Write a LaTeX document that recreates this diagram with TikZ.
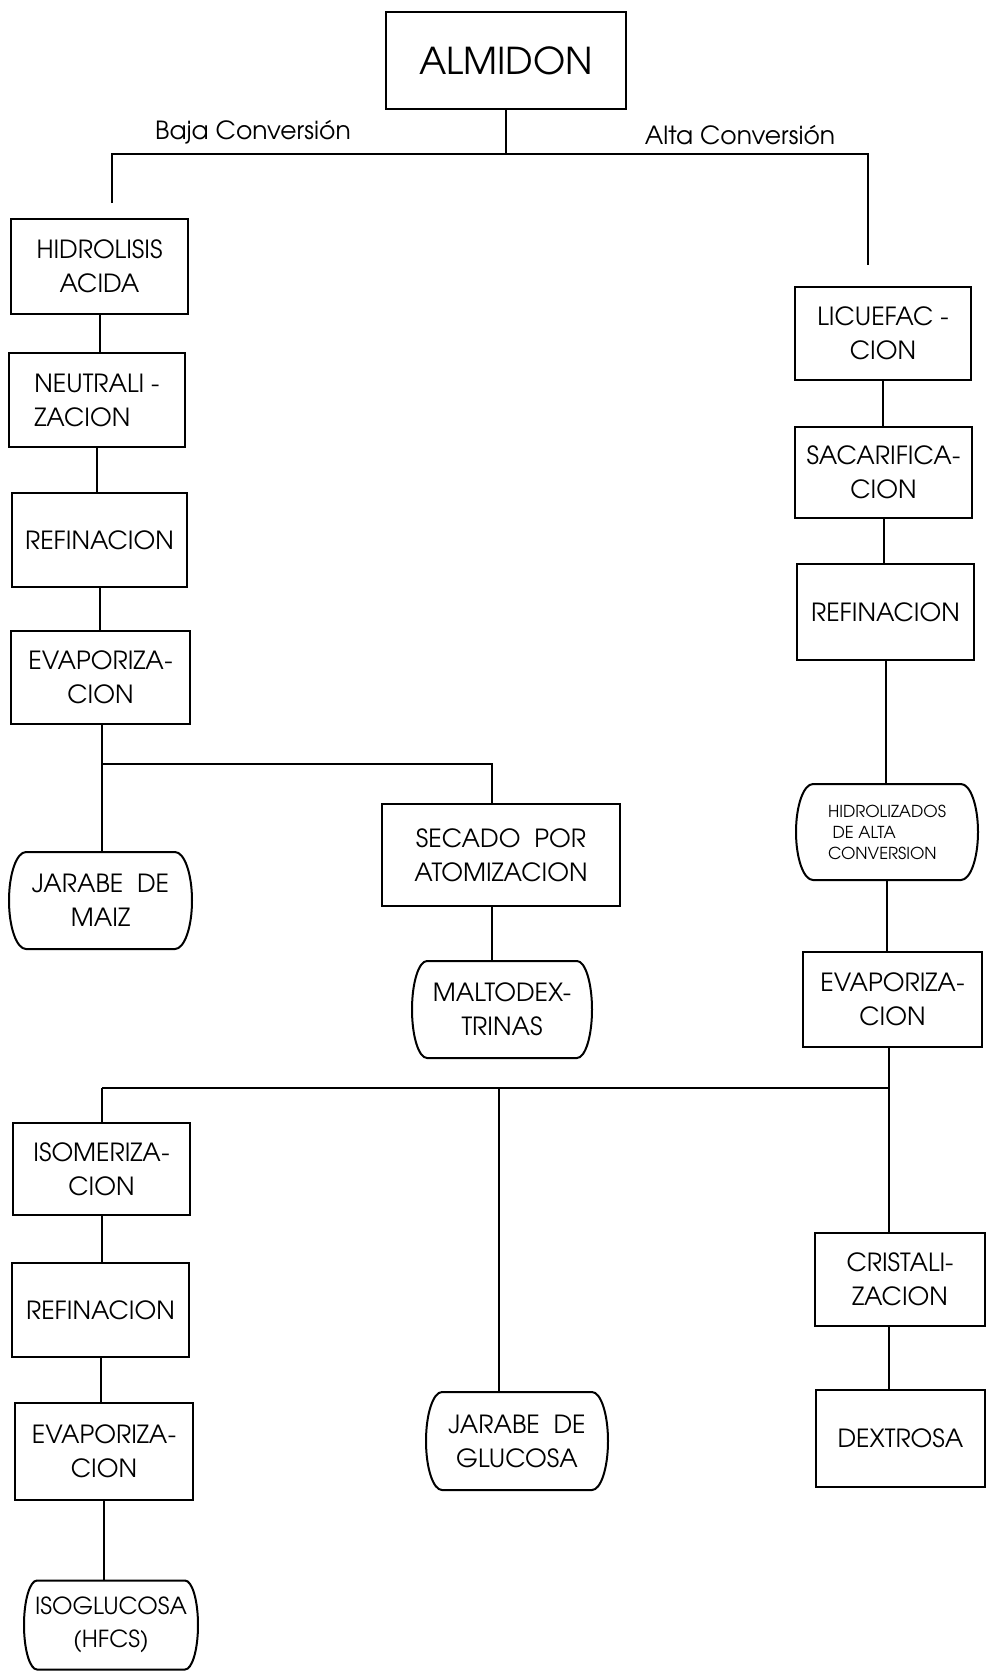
\documentclass[tikz,border=0pt]{standalone}
\usepackage{fontspec}
\setmainfont{TeX Gyre Adventor}
\usetikzlibrary{calc}
\tikzset{
  boxfont/.style={font=\fontsize{25}{34}\selectfont},
  stage/.style={draw, rectangle, inner sep=2pt, align=center, boxfont},
  product/.style={rectangle, inner sep=0pt, align=center, boxfont},
  branchlabel/.style={inner sep=0pt, font=\fontsize{25}{28}\selectfont},
}
% outline of a product node: flat top and bottom, half-elliptic ends
\newcommand{\barrel}[2][17]{%
  \draw ($(#2.north west)+(#1,0)$) -- ($(#2.north east)+(-#1,0)$)
    .. controls ($(#2.north east)+(-0.448*#1,0)$)
            and ($(#2.east)!0.552!(#2.north east)$) .. (#2.east)
    .. controls ($(#2.east)!0.552!(#2.south east)$)
            and ($(#2.south east)+(-0.448*#1,0)$) .. ($(#2.south east)+(-#1,0)$)
    -- ($(#2.south west)+(#1,0)$)
    .. controls ($(#2.south west)+(0.448*#1,0)$)
            and ($(#2.west)!0.552!(#2.south west)$) .. (#2.west)
    .. controls ($(#2.west)!0.552!(#2.north west)$)
            and ($(#2.north west)+(0.448*#1,0)$) .. cycle;}
\begin{document}
\begin{tikzpicture}[x=1pt, y=-1pt, line width=2pt]
\useasboundingbox (0,0) rectangle (986,1675);

% source
\node[stage, minimum width=240pt, minimum height=97pt,
      font=\fontsize{37}{42}\selectfont] (almidon) at (506,60.5) {ALMIDON};
\node[branchlabel] (baja) at (253,132) {Baja Conversión};
\node[branchlabel] (alta) at (740,135) {Alta Conversión};

% low-conversion branch
\node[stage, minimum width=177pt, minimum height=95pt] (hidro) at (99.5,266.5) {HIDROLISIS\\ACIDA};
\node[stage, minimum width=176pt, minimum height=94pt, align=left] (neutra) at (97,400) {NEUTRALI -\\ZACION};
\node[stage, minimum width=175pt, minimum height=94pt] (refinA) at (99.5,540) {REFINACION};
\node[stage, minimum width=179pt, minimum height=93pt] (evapA) at (100.5,677.5) {EVAPORIZA-\\CION};
\node[product, minimum width=181pt, minimum height=95pt] (maiz) at (100.5,900.5) {JARABE\ \ DE\\MAIZ};
\node[stage, minimum width=238pt, minimum height=102pt] (secado) at (501,855) {SECADO\ \ POR\\ATOMIZACION};
\node[product, minimum width=178pt, minimum height=95pt] (malto) at (502,1009.5) {MALTODEX-\\TRINAS};

% high-conversion branch
\node[stage, minimum width=176pt, minimum height=93pt] (licue) at (883,333.5) {LICUEFAC -\\CION};
\node[stage, minimum width=177pt, minimum height=91pt] (sacar) at (883.5,472.5) {SACARIFICA-\\CION};
\node[stage, minimum width=177pt, minimum height=96pt] (refinB) at (885.5,612) {REFINACION};
\node[product, minimum width=180pt, minimum height=94pt, align=left,
      font=\fontsize{16.5}{21}\selectfont] (hidroliz) at (887,832) {HIDROLIZADOS\\\ DE\ ALTA\\CONVERSION};
\node[stage, minimum width=179pt, minimum height=95pt] (evapB) at (892.5,999.5) {EVAPORIZA-\\CION};

% glucose products
\node[stage, minimum width=177pt, minimum height=92pt] (isom) at (101.5,1169) {ISOMERIZA-\\CION};
\node[stage, minimum width=177pt, minimum height=94pt] (refinC) at (100.5,1310) {REFINACION};
\node[stage, minimum width=178pt, minimum height=97pt] (evapC) at (104,1451.5) {EVAPORIZA-\\CION};
\node[product, minimum width=172pt, minimum height=87pt,
      font=\fontsize{23.5}{33}\selectfont] (isoglu) at (111,1625) {ISOGLUCOSA\\(HFCS)};
\node[product, minimum width=180pt, minimum height=96pt] (glucosa) at (517,1441) {JARABE\ \ DE\\GLUCOSA};
\node[stage, minimum width=170pt, minimum height=93pt] (crist) at (900,1279.5) {CRISTALI-\\ZACION};
\node[stage, minimum width=169pt, minimum height=97pt] (dextr) at (900.5,1438.5) {DEXTROSA};

% product outlines
\barrel{maiz}
\barrel[15]{malto}
\barrel{hidroliz}
\barrel[13]{isoglu}
\barrel[16]{glucosa}

% junction points of the connectors
\coordinate (busL) at (112,154);
\coordinate (busR) at (868,154);
\coordinate (dropL) at (112,203);
\coordinate (dropR) at (868,265);
\coordinate (jEvap) at (102,764);
\coordinate (jSec) at (492,764);
\coordinate (jLow) at (102,1088);
\coordinate (jMid) at (499,1088);
\coordinate (jHigh) at (889,1088);

% top split
\draw (almidon.south) -- (almidon.south |- busL);
\draw (dropL) -- (busL) -- (busR) -- (dropR);

% low-conversion chain
\draw (hidro.south) -- (hidro.south |- neutra.north);
\draw (neutra.south) -- (neutra.south |- refinA.north);
\draw (refinA.south) -- (refinA.south |- evapA.north);
\draw (jEvap |- evapA.south) -- (jEvap |- maiz.north);
\draw (jEvap) -- (jSec) -- (jSec |- secado.north);
\draw (jSec |- secado.south) -- (jSec |- malto.north);

% high-conversion chain
\draw (licue.south) -- (licue.south |- sacar.north);
\draw (sacar.south) -- (sacar.south |- refinB.north);
\draw (refinB.south) -- (refinB.south |- hidroliz.north);
\draw (hidroliz.south) -- (hidroliz.south |- evapB.north);
\draw (jHigh |- evapB.south) -- (jHigh |- crist.north);
\draw (jHigh |- crist.south) -- (jHigh |- dextr.north);

% lower split
\draw (jLow) -- (jHigh);
\draw (jLow) -- (jLow |- isom.north);
\draw (jMid) -- (jMid |- glucosa.north);
\draw (isom.south) -- (isom.south |- refinC.north);
\draw (refinC.south) -- (refinC.south |- evapC.north);
\draw (evapC.south) -- (evapC.south |- isoglu.north);
\end{tikzpicture}
\end{document}
